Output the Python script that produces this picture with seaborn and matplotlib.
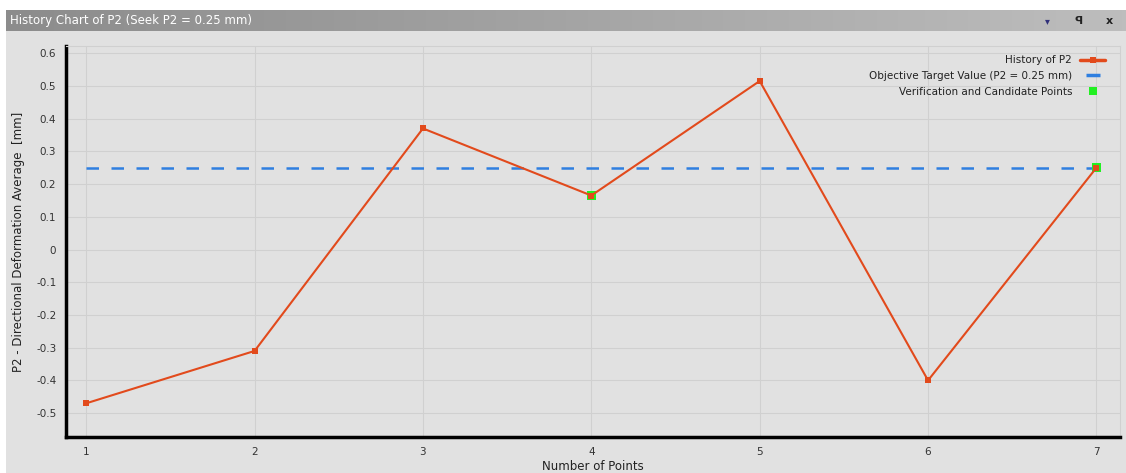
import numpy as np
import pandas as pd
import matplotlib
matplotlib.use("Agg")
import matplotlib.pyplot as plt
from matplotlib.lines import Line2D
from matplotlib.patches import Rectangle
import seaborn as sns

# History of the output parameter P2 over the sampled points
points = [1, 2, 3, 4, 5, 6, 7]
p2_values = [-0.47, -0.31, 0.37, 0.165, 0.515, -0.40, 0.25]
target_value = 0.25
candidate_points = [4, 7]
candidate_values = [0.165, 0.25]
y_ticks = [0.6, 0.5, 0.4, 0.3, 0.2, 0.1, 0, -0.1, -0.2, -0.3, -0.4, -0.5]
y_tick_labels = ["0.6", "0.5", "0.4", "0.3", "0.2", "0.1", "0", "-0.1", "-0.2", "-0.3", "-0.4", "-0.5"]

title_text = "History Chart of P2 (Seek P2 = 0.25 mm)"
legend_history = "History of P2"
legend_target = "Objective Target Value (P2 = 0.25 mm)"
legend_points = "Verification and Candidate Points"

history = pd.DataFrame({"point": points, "p2": p2_values})
candidates = pd.DataFrame({"point": candidate_points, "p2": candidate_values})

sns.set_theme(style="white")
plt.rcParams["font.family"] = ["DejaVu Sans"]

bg = "#e1e1e1"
line_red = "#e24a1c"
blue = "#2f7fe0"
green = "#22f022"

fig = plt.figure(figsize=(11.26, 4.73), dpi=100)
fig.patch.set_facecolor("white")

# panel background behind the chart
fig.patches.append(Rectangle((6 / 1126, 0), 1 - 6 / 1126, 1 - 30 / 473,
                             transform=fig.transFigure, facecolor=bg,
                             edgecolor="none", zorder=-5))

# title bar
bar = fig.add_axes([6 / 1126, 1 - 31 / 473, 1 - 6 / 1126, 21 / 473])
grad = np.linspace(0, 1, 256).reshape(1, -1)
bar.imshow(grad, aspect="auto", cmap=matplotlib.colors.LinearSegmentedColormap.from_list(
    "bar", ["#8c8c8c", "#a4a4a4", "#bdbdbd"]), extent=[0, 1, 0, 1])
bar.set_axis_off()
bar.text(0.004, 0.48, title_text, color="white", fontsize=8.5, va="center", ha="left")
bar.text(0.930, 0.48, "▾", color="#30307a", fontsize=7, va="center", ha="center")
bar.text(0.958, 0.48, "ꟼ", color="#222222", fontsize=8, va="center", ha="center",
         fontweight="bold")
bar.text(0.985, 0.48, "x", color="#222222", fontsize=8, va="center", ha="center",
         fontweight="bold")

ax = fig.add_axes([66 / 1126, 1 - 437 / 473, (1120 - 66) / 1126, (437 - 46) / 473])
ax.set_facecolor(bg)

# objective target spans the sampled points
ax.hlines(target_value, points[0], points[-1], color=blue, lw=1.8,
          linestyles=[(0, (5, 5))], zorder=2)
sns.lineplot(data=history, x="point", y="p2", ax=ax, color=line_red, lw=1.5,
             marker="s", markersize=4, markeredgewidth=0, zorder=3)
sns.scatterplot(data=candidates, x="point", y="p2", ax=ax, color=green, marker="s",
                s=40, edgecolor="none", zorder=2.5)
# redraw the red markers over the green squares
ax.plot(candidate_points, candidate_values, "s", color=line_red, ms=3.5, mew=0, zorder=4)

ax.set_xlim(0.88, 7.14)
ax.set_ylim(-0.573, 0.622)
ax.set_xticks(points)
ax.set_xticklabels([str(p) for p in points])
ax.set_yticks(y_ticks)
ax.set_yticklabels(y_tick_labels)
ax.grid(True, color="#d0d0d0", lw=0.8)
ax.set_axisbelow(True)

for side in ["top", "right"]:
    ax.spines[side].set_color("#d0d0d0")
    ax.spines[side].set_linewidth(0.8)
for side in ["left", "bottom"]:
    ax.spines[side].set_color("black")
    ax.spines[side].set_linewidth(2.5)

ax.tick_params(axis="both", labelsize=7.5, colors="#333333", length=3, width=0.8,
               direction="out", pad=4)
ax.tick_params(axis="both", color="#777777")
ax.set_xlabel("Number of Points", fontsize=8.5, color="#222222", labelpad=2)
ax.set_ylabel("P2 - Directional Deformation Average  [mm]", fontsize=8.5,
              color="#222222", labelpad=8)

handles = [
    Line2D([], [], color=line_red, lw=2.5, marker="s", ms=4, mew=0),
    Line2D([], [], color=blue, lw=0, marker="_", ms=10, mew=2.5),
    Line2D([], [], color=green, lw=0, marker="s", ms=6, mew=0),
]
ax.legend(handles, [legend_history, legend_target, legend_points],
          loc="upper right", bbox_to_anchor=(0.995, 1.0), markerfirst=False,
          frameon=False, fontsize=7.5, handlelength=2.4, labelspacing=0.55,
          borderaxespad=0.5, labelcolor="#222222")

fig.savefig("out.png", dpi=100, facecolor=fig.get_facecolor())
